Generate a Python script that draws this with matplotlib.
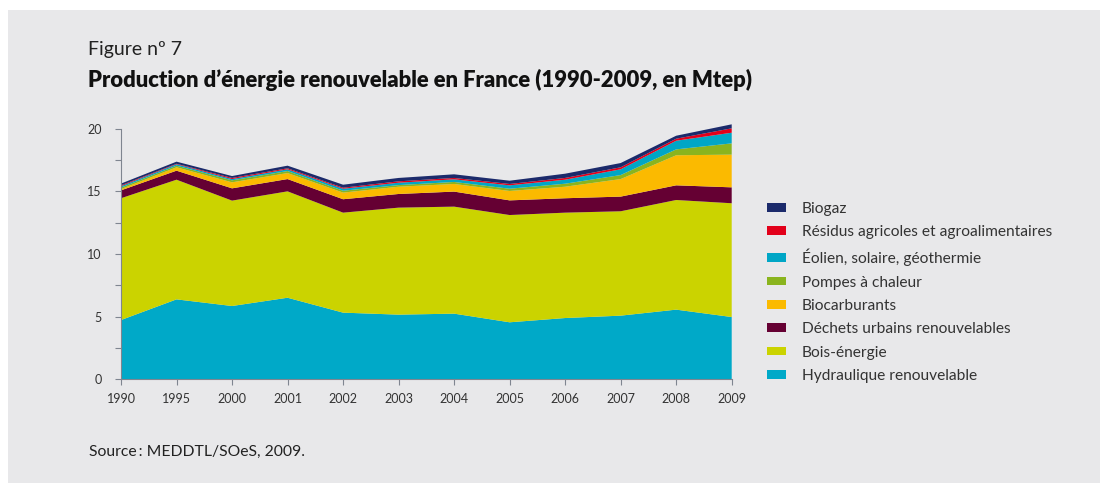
import matplotlib
matplotlib.use("Agg")
import matplotlib.pyplot as plt
from matplotlib.patches import Rectangle, Patch
import numpy as np

years = ["1990", "1995", "2000", "2001", "2002", "2003", "2004", "2005", "2006", "2007", "2008", "2009"]

hydraulique = [4.73, 6.38, 5.85, 6.51, 5.32, 5.16, 5.24, 4.55, 4.89, 5.08, 5.56, 4.97]
bois_energie = [9.72, 9.55, 8.41, 8.49, 7.98, 8.54, 8.54, 8.56, 8.41, 8.33, 8.75, 9.08]
dechets_urbains = [0.63, 0.72, 0.98, 0.98, 1.07, 1.09, 1.20, 1.17, 1.15, 1.17, 1.17, 1.27]
biocarburants = [0.10, 0.27, 0.48, 0.48, 0.53, 0.58, 0.61, 0.75, 0.92, 1.40, 2.40, 2.61]
pompes_chaleur = [0.12, 0.13, 0.16, 0.16, 0.15, 0.13, 0.16, 0.18, 0.24, 0.32, 0.47, 0.90]
eolien_solaire_geo = [0.11, 0.11, 0.10, 0.14, 0.16, 0.19, 0.21, 0.27, 0.32, 0.46, 0.69, 0.85]
residus_agricoles = [0.07, 0.04, 0.09, 0.08, 0.08, 0.11, 0.11, 0.11, 0.14, 0.16, 0.16, 0.35]
biogaz = [0.14, 0.17, 0.15, 0.21, 0.24, 0.27, 0.29, 0.26, 0.34, 0.34, 0.24, 0.32]

series_labels = ["Hydraulique renouvelable", "Bois-énergie", "Déchets urbains renouvelables",
                 "Biocarburants", "Pompes à chaleur", "Éolien, solaire, géothermie",
                 "Résidus agricoles et agroalimentaires", "Biogaz"]
series_colors = ["#00A9C8", "#CBD300", "#650033", "#FBBA00", "#8AB41E", "#00A6C6", "#E2001A", "#1B2A6B"]
yticks = [0, 5, 10, 15, 20]

plt.rcParams['font.family'] = ['Lato', 'DejaVu Sans']

W, H = 1100, 483
fig = plt.figure(figsize=(W / 100, H / 100), dpi=100)
fig.patch.set_facecolor("white")
bg = "#E8E8EA"
fig.patches.append(Rectangle((8 / W, 0), (W - 8) / W, (H - 10) / H, transform=fig.transFigure,
                             facecolor=bg, edgecolor="none", zorder=-10))

ax = fig.add_axes([121 / W, 1 - 379.3 / H, (731.7 - 121) / W, (379.3 - 128.7) / H])
ax.set_facecolor(bg)
x = np.arange(len(years))
data = [hydraulique, bois_energie, dechets_urbains, biocarburants, pompes_chaleur,
        eolien_solaire_geo, residus_agricoles, biogaz]
polys = ax.stackplot(x, *data, colors=series_colors, linewidth=0, antialiased=True)
for p in polys:
    p.set_clip_on(False)

ax.set_xlim(0, len(years) - 1)
ax.set_ylim(0, 20)
ax.set_xticks(x)
ax.set_xticklabels(years)
ax.set_yticks(yticks)
ax.set_yticks(np.arange(0, 20.1, 2.5), minor=True)
spine_col = "#7F8590"
for s in ["top", "right"]:
    ax.spines[s].set_visible(False)
for s in ["left", "bottom"]:
    ax.spines[s].set_color(spine_col)
    ax.spines[s].set_linewidth(0.8)
    ax.spines[s].set_zorder(5)
ax.tick_params(axis="both", which="both", color=spine_col, width=0.8, length=4, labelsize=9,
               labelcolor="#333333")
ax.tick_params(axis="y", which="major", pad=10)
ax.tick_params(axis="x", which="major", pad=6)

fig.text(88 / W, 1 - 50 / H, "Figure nº 7", fontsize=14, fontweight="normal", color="#222222",
         va="center", ha="left")
fig.text(88 / W, 1 - 80 / H, "Production d’énergie renouvelable en France (1990-2009, en Mtep)",
         fontsize=15.8, fontweight="heavy", color="#111111", va="center", ha="left")
fig.text(89 / W, 1 - 452 / H, "Source\u2009: MEDDTL/SOeS, 2009.", fontsize=11.3, color="#222222",
         va="center", ha="left")

handles = [Patch(facecolor=c, edgecolor="none") for c in series_colors][::-1]
labels = series_labels[::-1]
leg = fig.legend(handles, labels, loc="upper left", bbox_to_anchor=(767 / W, 1 - 202 / H),
                 frameon=False, fontsize=11.2, handlelength=1.22, handleheight=0.5,
                 labelspacing=0.6, handletextpad=1.0, borderpad=0, borderaxespad=0,
                 labelcolor="#333333")

fig.savefig("out.png", dpi=100, facecolor=fig.get_facecolor())
